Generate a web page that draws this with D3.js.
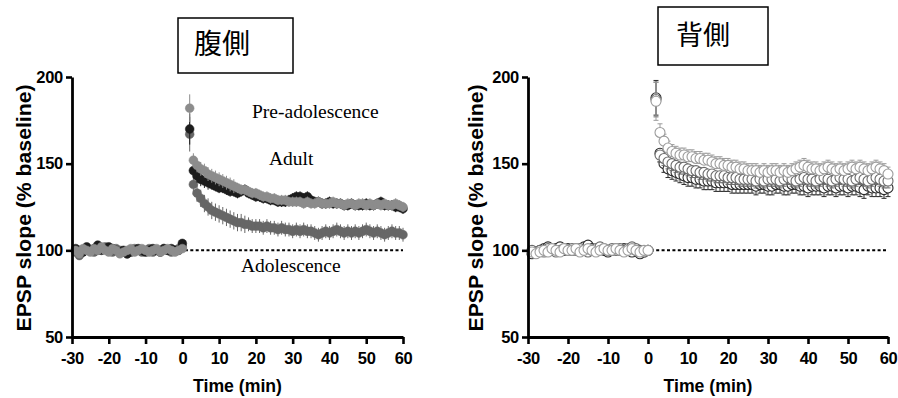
<!DOCTYPE html>
<html>
<head>
<meta charset="utf-8">
<script src="https://cdn.jsdelivr.net/npm/d3@7"></script>
<style>
  body { margin: 0; background: #fff; }
</style>
</head>
<body>
<div class="container"></div>
<script>
// 時間軸 (min)
const time = [
  -29,-28,-27,-26,-25,-24,-23,-22,-21,-20,-19,-18,-17,-16,-15,-14,-13,-12,-11,-10,
  -9,-8,-7,-6,-5,-4,-3,-2,-1,0,
  2,3,4,5,6,7,8,9,10,11,12,13,14,15,16,17,18,19,20,21,
  22,23,24,25,26,27,28,29,30,31,32,33,34,35,36,37,38,39,40,41,
  42,43,44,45,46,47,48,49,50,51,52,53,54,55,56,57,58,59,60
];
const xTicks = [-30, -20, -10, 0, 10, 20, 30, 40, 50, 60];
const xTickLabels = ["-30", "-20", "-10", "0", "10", "20", "30", "40", "50", "60"];
const yTicks = [50, 100, 150, 200];
const yTickLabels = ["50", "100", "150", "200"];

// 腹側
const ventralPre = [
  100,98,101,100,99,101,100,102,100,99, 101,100,98,99,100,101,99,100,101,100,
  99,100,101,99,100,101,100,99,100,101,
  182,152,149,147,146,144,143,142,141,140, 139,138,137,136,135,135,134,133,133,132,
  131,131,130,130,129,129,129,128,128,128, 128,127,128,127,127,128,127,127,127,128,
  127,127,126,127,127,126,127,127,126,127, 126,127,126,127,126,126,127,126,125
];
const ventralPreSem = [
  2,2,2,2,2,2,2,2,2,2, 2,2,2,2,2,2,2,2,2,2, 2,2,2,2,2,2,2,2,2,2,
  8,4,4,4,4,4,4,4,4,4, 4,4,4,3,3,3,3,3,3,3, 3,3,3,3,3,3,3,3,3,3, 3,3,3,3,3,3,3,3,3,3,
  3,3,3,3,3,3,3,3,3,3, 3,3,3,3,3,3,3,3,3
];
const ventralAdult = [
  101,100,99,102,100,101,103,100,101,102, 101,100,99,100,98,99,100,101,100,99,
  100,101,100,99,101,100,101,100,100,104,
  170,146,143,141,140,139,138,137,136,136, 135,134,134,133,134,135,133,132,131,131,
  130,130,129,129,128,128,128,129,130,131, 131,130,131,129,128,128,127,127,128,127,
  127,127,126,126,127,126,126,126,127,126, 126,127,128,126,126,126,125,125,124
];
const ventralAdultSem = [
  2,2,2,2,2,2,2,2,2,2, 2,2,2,2,2,2,2,2,2,2, 2,2,2,2,2,2,2,2,2,2,
  9,4,4,4,4,4,3,3,3,3, 3,3,3,3,3,3,3,3,3,3, 3,3,3,3,3,3,3,3,3,3, 3,3,3,3,3,3,3,3,3,3,
  3,3,3,3,3,3,3,3,3,3, 3,3,3,3,3,3,3,3,3
];
const ventralAdolescence = [
  99,97,100,101,100,99,100,101,102,100, 99,101,100,99,98,100,101,100,99,100,
  101,99,100,100,101,100,99,100,101,102,
  167,138,133,130,127,125,123,122,121,120, 119,118,117,116,116,115,115,114,114,114,
  113,114,113,113,112,113,112,112,111,112, 111,112,111,111,110,109,110,111,110,111,
  112,111,110,111,110,111,110,111,112,111, 110,111,110,109,110,111,110,110,109
];
const ventralAdolescenceSem = [
  2,2,2,2,2,2,2,2,2,2, 2,2,2,2,2,2,2,2,2,2, 2,2,2,2,2,2,2,2,2,2,
  10,6,5,5,5,5,5,5,5,5, 5,5,5,5,5,5,4,4,4,4, 4,4,4,4,4,4,4,4,4,4, 4,4,4,4,4,4,4,4,4,4,
  4,4,4,4,4,4,4,4,4,4, 4,4,4,4,4,4,4,4,4
];

// 背側
const dorsalA = [
  99,98,99,100,99,101,100,99,101,100, 100,101,99,100,101,100,99,100,101,100,
  100,101,100,99,100,101,100,99,100,100,
  186,168,163,159,157,156,155,155,154,154, 153,153,152,152,151,150,150,149,149,148,
  148,147,147,146,146,146,145,146,145,146, 146,145,146,145,146,147,148,149,148,147,
  147,146,147,148,147,146,147,146,147,148, 147,148,147,146,147,148,147,146,144
];
const dorsalASem = [
  2,2,2,2,2,2,2,2,2,2, 2,2,2,2,2,2,2,2,2,2, 2,2,2,2,2,2,2,2,2,2,
  11,5,4,4,4,4,4,4,4,4, 4,4,4,4,4,4,4,4,4,4, 4,4,4,4,4,4,4,4,4,4, 4,4,4,4,4,4,4,4,4,4,
  4,4,4,4,4,4,4,4,4,4, 4,4,4,4,4,4,4,4,4
];
const dorsalB = [
  100,99,100,99,101,100,99,100,101,100, 101,100,101,100,99,100,101,102,101,100,
  101,100,101,100,101,102,101,100,99,100,
  187,155,153,151,150,149,148,148,147,146, 146,145,145,144,144,143,143,143,142,142,
  142,141,141,141,141,140,141,140,141,141, 141,140,141,142,141,140,141,142,141,141,
  140,141,142,141,140,141,142,141,141,140, 141,142,141,140,141,142,141,140,140
];
const dorsalBSem = [
  2,2,2,2,2,2,2,2,2,2, 2,2,2,2,2,2,2,2,2,2, 2,2,2,2,2,2,2,2,2,2,
  10,4,4,4,4,4,4,4,4,4, 4,4,4,4,4,4,4,4,4,4, 4,4,4,4,4,4,4,4,4,4, 4,4,4,4,4,4,4,4,4,4,
  4,4,4,4,4,4,4,4,4,4, 4,4,4,4,4,4,4,4,4
];
const dorsalC = [
  98,99,100,101,102,100,101,102,100,101, 100,101,100,102,103,101,100,101,100,99,
  100,101,100,101,100,99,100,98,99,100,
  188,156,150,147,146,145,144,143,142,142, 141,141,140,140,140,139,139,139,139,138,
  138,138,138,138,138,137,138,138,137,137, 138,138,137,137,138,138,137,137,136,137,
  137,137,136,137,137,136,137,137,136,137, 137,136,135,137,136,136,136,135,136
];
const dorsalCSem = [
  2,2,2,2,2,2,2,2,2,2, 2,2,2,2,2,2,2,2,2,2, 2,2,2,2,2,2,2,2,2,2,
  10,5,5,5,5,5,5,5,5,5, 5,5,5,5,5,5,5,5,5,5, 5,5,5,5,5,5,5,5,5,5, 5,5,5,5,5,5,5,5,5,5,
  5,5,5,5,5,5,5,5,5,5, 5,5,5,5,5,5,5,5,5
];

const W = 898, H = 398;
const SANS = "'Liberation Sans', Arial, Helvetica, sans-serif";
const SERIF = "'Liberation Serif', 'Times New Roman', serif";
const CJK = "'Noto Sans CJK JP', 'Noto Sans CJK SC', sans-serif";

const svg = d3.select(".container")
  .append("svg")
  .attr("xmlns", "http://www.w3.org/2000/svg")
  .attr("width", W)
  .attr("height", H);

svg.append("rect").attr("width", W).attr("height", H).attr("fill", "#fff");

const zip = (vals, sem) => time.map((t, i) => ({ t, v: vals[i], e: sem[i] }));

const panels = [
  {
    left: 72, right: 403, top: 77, bottom: 337,
    title: "腹側", box: [178, 18, 115, 55], titleX: 194, titleY: 54, titleSize: 28,
    labelX: 31,
    series: [
      { data: zip(ventralAdolescence, ventralAdolescenceSem), color: "#666666", open: false, dir: 0, cap: 0 },
      { data: zip(ventralAdult, ventralAdultSem), color: "#1c1c1c", open: false, dir: 0, cap: 0 },
      { data: zip(ventralPre, ventralPreSem), color: "#8c8c8c", open: false, dir: 0, cap: 0 }
    ],
    notes: [
      { text: "Pre-adolescence", x: 252, y: 118 },
      { text: "Adult", x: 269, y: 165 },
      { text: "Adolescence", x: 241, y: 272 }
    ]
  },
  {
    left: 528, right: 888, top: 77, bottom: 337,
    title: "背側", box: [658, 7, 110, 58], titleX: 676, titleY: 45, titleSize: 27,
    labelX: 483,
    series: [
      { data: zip(dorsalC, dorsalCSem), color: "#2a2a2a", open: true, dir: -1, cap: 2.5 },
      { data: zip(dorsalB, dorsalBSem), color: "#6a6a6a", open: true, dir: -1, cap: 2.5 },
      { data: zip(dorsalA, dorsalASem), color: "#9c9c9c", open: true, dir: 1, cap: 2.5 }
    ],
    notes: []
  }
];

panels.forEach(p => {
  const x = d3.scaleLinear().domain([-30, 60]).range([p.left, p.right]);
  const y = d3.scaleLinear().domain([50, 200]).range([p.bottom, p.top]);

  // 基準線 (100%)
  svg.append("line")
    .attr("x1", x(0.7)).attr("x2", x(60))
    .attr("y1", y(100)).attr("y2", y(100))
    .attr("stroke", "#000")
    .attr("stroke-width", 2)
    .attr("stroke-dasharray", "3,2.4");

  // データ
  p.series.forEach(s => {
    const g = svg.append("g");
    const lo = d => (s.dir > 0 ? d.v : d.v - d.e);
    const hi = d => (s.dir < 0 ? d.v : d.v + d.e);
    // 最初の点(刺激直後)は上下両方向
    const ends = d => (s.dir === 0 || d.t === 2 ? [d.v - d.e, d.v + d.e] : [s.dir > 0 ? d.v + d.e : d.v - d.e]);
    g.selectAll("line.err")
      .data(s.data)
      .enter()
      .append("line")
      .attr("x1", d => x(d.t)).attr("x2", d => x(d.t))
      .attr("y1", d => y(d.t === 2 ? d.v - d.e : lo(d)))
      .attr("y2", d => y(d.t === 2 ? d.v + d.e : hi(d)))
      .attr("stroke", s.color)
      .attr("stroke-width", 1);
    if (s.cap > 0) {
      g.selectAll("line.cap")
        .data(s.data.flatMap(d => ends(d).map(v => ({ t: d.t, v }))))
        .enter()
        .append("line")
        .attr("x1", d => x(d.t) - s.cap).attr("x2", d => x(d.t) + s.cap)
        .attr("y1", d => y(d.v)).attr("y2", d => y(d.v))
        .attr("stroke", s.color)
        .attr("stroke-width", 1);
    }
    g.selectAll("circle")
      .data(s.data)
      .enter()
      .append("circle")
      .attr("cx", d => x(d.t))
      .attr("cy", d => y(d.v))
      .attr("r", s.open ? 5 : 4.4)
      .attr("fill", s.open ? "#fff" : s.color)
      .attr("stroke", s.color)
      .attr("stroke-width", s.open ? 1.1 : 0.5);
  });

  // Y軸
  const yAxis = svg.append("g")
    .attr("transform", `translate(${p.left},0)`)
    .call(d3.axisLeft(y)
      .tickValues(yTicks)
      .tickFormat((d, i) => yTickLabels[i])
      .tickSize(6)
      .tickSizeOuter(0)
      .tickPadding(3));

  // X軸
  const xAxis = svg.append("g")
    .attr("transform", `translate(0,${p.bottom})`)
    .call(d3.axisBottom(x)
      .tickValues(xTicks)
      .tickFormat((d, i) => xTickLabels[i])
      .tickSize(7)
      .tickSizeOuter(0)
      .tickPadding(8));

  [yAxis, xAxis].forEach(a => {
    a.select(".domain").attr("stroke", "#000").attr("stroke-width", 2.8);
    a.selectAll(".tick line").attr("stroke", "#000").attr("stroke-width", 2.6);
    a.selectAll(".tick text")
      .attr("fill", "#000")
      .style("font-family", SANS)
      .style("font-weight", "bold")
      .style("font-size", "16.5px")
      .style("letter-spacing", "-0.3px");
  });

  // 軸ラベル
  svg.append("text")
    .attr("transform", `translate(${p.labelX},${(p.top + p.bottom) / 2 + 1}) rotate(-90)`)
    .attr("text-anchor", "middle")
    .attr("textLength", 247)
    .attr("lengthAdjust", "spacingAndGlyphs")
    .style("font-family", SANS)
    .style("font-weight", "bold")
    .style("font-size", "20px")
    .text("EPSP slope (% baseline)");

  svg.append("text")
    .attr("x", (p.left + p.right) / 2)
    .attr("y", 392)
    .attr("text-anchor", "middle")
    .attr("textLength", 89)
    .attr("lengthAdjust", "spacingAndGlyphs")
    .style("font-family", SANS)
    .style("font-weight", "bold")
    .style("font-size", "19px")
    .text("Time (min)");

  // タイトル枠
  svg.append("rect")
    .attr("x", p.box[0]).attr("y", p.box[1])
    .attr("width", p.box[2]).attr("height", p.box[3])
    .attr("fill", "#fff")
    .attr("stroke", "#000")
    .attr("stroke-width", 1.5);
  svg.append("text")
    .attr("x", p.titleX)
    .attr("y", p.titleY)
    .style("font-family", CJK)
    .style("font-size", p.titleSize + "px")
    .text(p.title);

  // 注記
  p.notes.forEach(n => {
    svg.append("text")
      .attr("x", n.x)
      .attr("y", n.y)
      .style("font-family", SERIF)
      .style("font-size", "19.5px")
      .attr("fill", "#000")
      .text(n.text);
  });
});
</script>
</body>
</html>
